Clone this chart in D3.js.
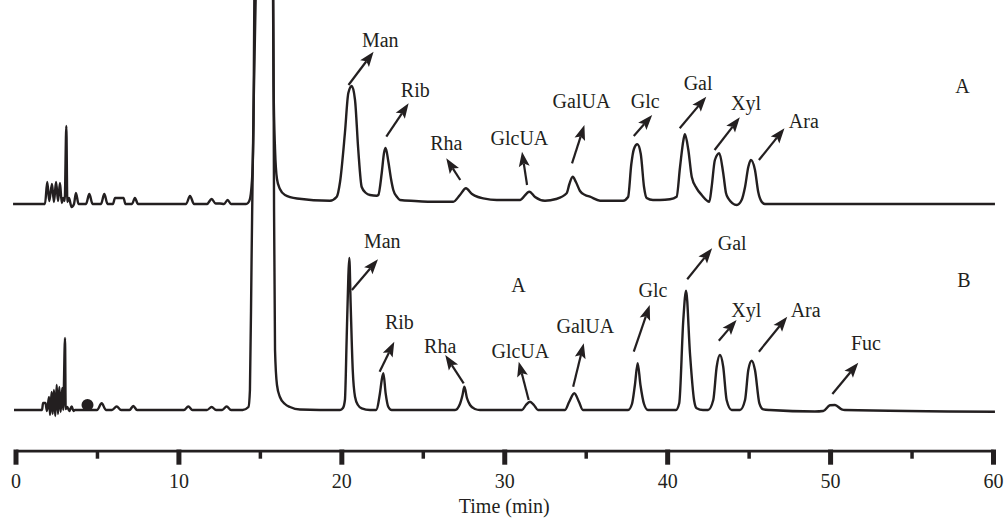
<!DOCTYPE html>
<html>
<head>
<meta charset="utf-8">
<script src="https://cdn.jsdelivr.net/npm/d3@7/dist/d3.min.js"></script>
<style>
  html, body { margin: 0; padding: 0; background: #fff; }
  svg { display: block; }
  text { font-family: "Liberation Serif", "DejaVu Serif", serif; fill: #231f20; }
</style>
</head>
<body>
<svg id="chart" width="1005" height="526"></svg>
<script>
// ---------- DATA (time in min, detector signal in arbitrary units) ----------
const traceA = [
  [-0.15,0],[1.81,0],[1.95,22],[2.07,3],[2.24,20],[2.36,2],[2.49,22],[2.61,3],[2.73,21],[2.84,1],
  [2.93,6],[3.02,3],[3.12,78],[3.18,2],[3.28,6],[3.44,-3],[3.59,0],[3.71,11],[3.87,0],[4.33,0],
  [4.53,10],[4.73,0],[5.25,0],[5.45,10],[5.65,0],[5.98,0],[6.11,6],[6.63,6],[6.75,0],[7.15,0],
  [7.33,6],[7.52,0],[10.47,0],[10.71,8],[10.96,0],[11.75,0],[12.04,5],[12.28,0.5],[12.55,0.5],[12.80,0],
  [13.02,4],[13.23,0],[14.15,0],[14.27,1],[14.39,5],[14.49,18],[14.53,28],[14.61,80],[14.73,400],[15.22,1400],
  [15.74,400],[15.84,120],[15.93,55],[16.05,25],[16.23,15],[16.54,9],[17.28,5.5],[19.30,3.3],
  [19.72,7.3],[19.92,22],[20.22,71],[20.43,111],[20.64,118],[20.84,104],[21.04,54],[21.25,17],[21.51,11],[21.76,9],
  [22.17,8.3],[22.27,9],[22.48,31],[22.62,51],[22.72,56],[22.89,42],[23.05,25],[23.19,14],[23.42,7],[23.60,4],
  [24.52,3],[25.44,2.3],[26.87,2.3],[27.28,9],[27.65,15.7],[28.02,10],[28.39,7],[28.71,5.7],[29.54,4],[30.97,4],
  [31.07,5],[31.54,12.3],[31.89,7],[32.50,3.3],[33.18,5],[33.83,10.7],[34.00,20],[34.20,27.3],[34.40,22],[34.65,13],
  [34.96,9],[35.26,7.3],[35.88,3.3],[37.29,3.3],[37.60,7],[37.80,40],[37.96,55],[38.17,59.7],[38.38,50],[38.58,17],
  [38.74,6],[39.13,4],[39.56,4],[40.17,4.7],[40.58,7.3],[40.79,37],[41.00,64],[41.09,69.7],[41.30,54],[41.51,27],
  [41.81,15.7],[42.12,9],[42.59,2.3],[42.73,17],[42.93,44],[43.20,50.7],[43.44,31],[43.61,11],[43.75,5.7],[44.27,-1],
  [44.57,4],[44.78,17],[44.98,37],[45.14,44],[45.39,34],[45.59,12],[45.80,2.3],[46.00,0],[60.12,0]
];

const traceB = [
  [-0.09,0],[1.63,0],[1.69,7],[1.84,7],[1.93,-1],[2.06,13],[2.12,-5],[2.22,18],[2.28,-4],[2.36,20],
  [2.44,-6],[2.53,25],[2.61,-4],[2.69,23],[2.77,-2],[2.87,22],[2.93,0],[3.04,72],[3.08,1],[3.18,3],
  [3.30,-1],[3.45,3.5],[3.56,-1],[3.65,0],[5.00,0],[5.29,6.7],[5.55,0],[5.92,0],[6.21,3.5],[6.48,0],
  [7.00,0],[7.23,4],[7.46,0],[10.34,0],[10.61,3.5],[10.86,0],[11.75,0],[12.04,3],[12.31,0],[12.68,0],
  [12.96,3.5],[13.23,0],[13.94,0],[14.30,3],[14.39,20],[14.49,150],[14.61,300],[14.74,410],[14.88,600],[15.25,1600],
  [15.62,600],[15.82,410],[15.87,200],[15.93,60],[16.05,25],[16.23,13],[16.54,6],[16.85,3],[17.46,0.5],[19.92,0],
  [20.10,2],[20.22,10],[20.33,73],[20.43,133],[20.49,152],[20.57,107],[20.70,40],[20.84,13.3],[21.02,5],[21.25,1.7],
  [21.76,0],[22.13,0],[22.37,16.7],[22.48,30],[22.58,36.7],[22.72,16.7],[22.88,3.3],[23.09,0],[26.98,0],[27.28,6],
  [27.44,15],[27.55,23.3],[27.71,12],[27.90,5],[28.20,1],[28.51,0],[31.09,0],[31.33,5],[31.58,8.3],[31.82,5],
  [32.07,0],[33.73,0],[33.98,8],[34.30,16.7],[34.59,8],[34.83,0],[37.60,0],[37.84,6],[38.02,25],[38.19,46.7],
  [38.36,25],[38.58,6],[38.82,0],[40.54,0],[40.74,6.7],[40.99,90],[41.16,119.3],[41.40,56.7],[41.65,10],[41.81,1.7],
  [42.20,0],[42.51,0],[42.83,10],[43.04,43.3],[43.24,55],[43.44,43.3],[43.65,10],[43.96,0],[44.47,0],[44.78,10],
  [44.98,40],[45.19,49.3],[45.39,40],[45.66,6.7],[45.90,0.7],[46.30,0],[49.07,-1.5],[49.58,-1],[49.99,4.7],[50.30,5],
  [50.71,0.7],[50.91,0],[60.12,-1.7]
];

// marker (filled dot) on trace B
const dotB = [[4.42, 5]];

// annotations: name, arrow tail [t,s], arrow tip [t,s], label [t,s]
const namesA  = ["Man","Rib","Rha","GlcUA","GalUA","Glc","Gal","Xyl","Ara"];
const tailsA  = [[20.44,119],[22.76,67.3],[27.30,24],[31.40,19],[34.16,40.7],[37.95,68],[40.77,75.7],[42.91,54],[45.63,44]];
const tipsA   = [[21.98,152.3],[24.13,100.7],[26.44,45.7],[31.09,52.3],[34.92,79],[39.08,89],[42.40,107.3],[44.46,86.7],[47.20,75.7]];
const labelsA = [[22.39,157.3],[24.54,107.3],[26.44,54],[30.93,59],[34.74,95.7],[38.65,95.7],[41.90,114],[44.84,94],[48.39,75.7]];

const namesB  = ["Man","Rib","Rha","GlcUA","GalUA","Glc","Gal","Xyl","Ara","Fuc"];
const tailsB  = [[20.65,120],[22.35,38.3],[27.51,26.7],[31.50,10],[34.23,23.3],[37.95,58.3],[41.23,130.7],[43.17,69.3],[45.63,58.3],[50.14,16]];
const tipsB   = [[22.25,150.7],[23.25,68.3],[26.38,55],[30.89,48.3],[34.88,66.7],[38.93,105],[42.76,161.7],[44.26,90],[47.37,93.3],[51.73,47.3]];
const labelsB = [[22.51,162],[23.56,81],[26.07,57.3],[30.99,52],[34.98,76.7],[39.13,113.3],[43.99,160],[44.86,93.3],[48.50,93.3],[52.20,60]];

// panel letters
const panelTexts = ["A","A","B"];
const panelPos   = [[58.12,110.7],[30.88,118.3],[58.22,123.3]];
const panelTrace = ["A","B","B"];

const majorTicks = [0,10,20,30,40,50,60];
const minorTicks = [5,15,25,35,45,55];
const xTitle = "Time (min)";

// ---------- DRAWING ----------
const ink = "#231f20";
const fs = 20;
const svg = d3.select("#chart");
const x = d3.scaleLinear().domain([0,60]).range([15.5,993]);
const yA = d3.scaleLinear().domain([0,204]).range([204,0]);
const yB = d3.scaleLinear().domain([0,410]).range([410,0]);

const lineOf = ys => d3.line().x(d => x(d[0])).y(d => ys(d[1])).curve(d3.curveMonotoneX);

svg.append("path").datum(traceA).attr("d", lineOf(yA))
  .attr("fill","none").attr("stroke",ink).attr("stroke-width",2.4).attr("stroke-linejoin","round");
svg.append("path").datum(traceB).attr("d", lineOf(yB))
  .attr("fill","none").attr("stroke",ink).attr("stroke-width",2.4).attr("stroke-linejoin","round");

svg.selectAll("circle.dot").data(dotB).enter().append("circle")
  .attr("cx", d => x(d[0])).attr("cy", d => yB(d[1])).attr("r", 6).attr("fill", ink);

function drawArrows(names, tails, tips, labels, ys) {
  const g = svg.append("g");
  names.forEach((n, i) => {
    const x1 = x(tails[i][0]), y1 = ys(tails[i][1]);
    const x2 = x(tips[i][0]),  y2 = ys(tips[i][1]);
    const dx = x2 - x1, dy = y2 - y1, L = Math.hypot(dx, dy);
    const ux = dx / L, uy = dy / L;
    const hl = 15, hw = 5.5;
    const bx = x2 - ux * hl, by = y2 - uy * hl;
    g.append("line").attr("x1", x1).attr("y1", y1)
      .attr("x2", x2 - ux * (hl - 3)).attr("y2", y2 - uy * (hl - 3))
      .attr("stroke", ink).attr("stroke-width", 2.2);
    g.append("path")
      .attr("d", `M${x2},${y2}L${bx - uy*hw},${by + ux*hw}L${bx + ux*3},${by + uy*3}L${bx + uy*hw},${by - ux*hw}Z`)
      .attr("fill", ink);
    g.append("text").attr("x", x(labels[i][0])).attr("y", ys(labels[i][1]))
      .attr("text-anchor","middle").attr("font-size", fs).text(n);
  });
}
drawArrows(namesA, tailsA, tipsA, labelsA, yA);
drawArrows(namesB, tailsB, tipsB, labelsB, yB);

panelTexts.forEach((t, i) => {
  const ys = panelTrace[i] === "A" ? yA : yB;
  svg.append("text").attr("x", x(panelPos[i][0])).attr("y", ys(panelPos[i][1]))
    .attr("text-anchor","middle").attr("font-size", fs).text(t);
});

// axis
const axisY = 450.7;
const gMinor = svg.append("g").attr("transform", `translate(0,${axisY})`)
  .call(d3.axisBottom(x).tickValues(minorTicks).tickSize(8).tickSizeOuter(0).tickFormat(""));
gMinor.select(".domain").remove();
gMinor.selectAll(".tick line").attr("stroke", ink).attr("stroke-width", 3.5);

const gMajor = svg.append("g").attr("transform", `translate(0,${axisY})`)
  .call(d3.axisBottom(x).tickValues(majorTicks).tickSize(14).tickSizeOuter(0).tickFormat(d3.format("d")));
gMajor.select(".domain").attr("stroke", ink).attr("stroke-width", 2.8);
gMajor.selectAll(".tick line").attr("stroke", ink).attr("stroke-width", 5).attr("y1", -1.2);
gMajor.selectAll(".tick text").attr("font-family", '"Liberation Serif", serif')
  .attr("font-size", fs).attr("fill", ink).attr("y", 0).attr("dy", 0)
  .attr("transform", "translate(0,37.5)");

svg.append("text").attr("x", (x(0) + x(60)) / 2).attr("y", 513)
  .attr("text-anchor","middle").attr("font-size", fs).text(xTitle);
</script>
</body>
</html>
